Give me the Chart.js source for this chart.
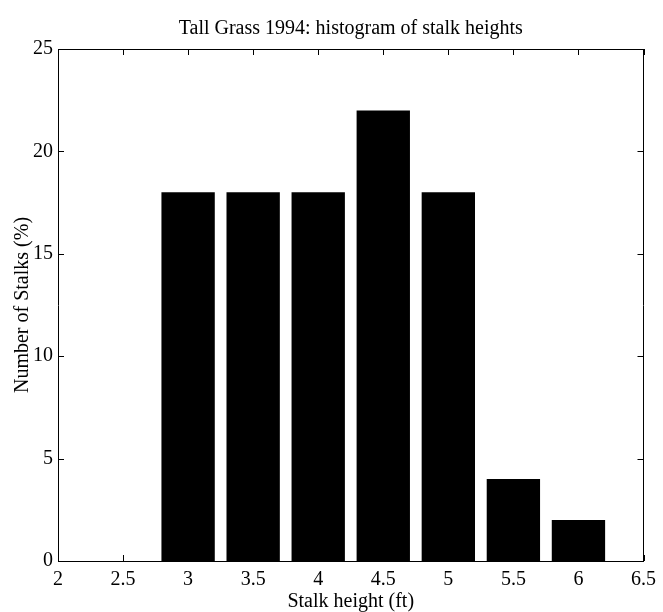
<!DOCTYPE html>
<html>
<head>
<meta charset="utf-8">
<script src="https://cdn.jsdelivr.net/npm/chart.js@4"></script>
<style>
  html, body { margin: 0; padding: 0; background: #fff; }
  canvas { display: block; }
</style>
</head>
<body>
<canvas id="chart" width="663" height="612"></canvas>
<script>
// histogram bins (ft) and share of stalks (%)
const binCenters = [3, 3.5, 4, 4.5, 5, 5.5, 6];
const stalkPercent = [18, 18, 18, 22, 18, 4, 2];
const xTicks = [2, 2.5, 3, 3.5, 4, 4.5, 5, 5.5, 6, 6.5];
const yTicks = [0, 5, 10, 15, 20, 25];

const serif = 'Liberation Serif';
const ink = '#000';

// matlab style ticks pointing into the plot box
const inwardTicks = {
  id: 'inwardTicks',
  afterDraw(chart) {
    const { ctx, chartArea: a, scales } = chart;
    const len = 6;
    ctx.save();
    ctx.strokeStyle = ink;
    ctx.lineWidth = 1;
    ctx.beginPath();
    xTicks.forEach(v => {
      const px = Math.round(scales.x.getPixelForValue(v)) + 0.5;
      ctx.moveTo(px, a.bottom); ctx.lineTo(px, a.bottom - len);
      ctx.moveTo(px, a.top); ctx.lineTo(px, a.top + len);
    });
    yTicks.forEach(v => {
      const py = Math.round(scales.y.getPixelForValue(v)) + 0.5;
      ctx.moveTo(a.left, py); ctx.lineTo(a.left + len, py);
      ctx.moveTo(a.right, py); ctx.lineTo(a.right - len, py);
    });
    ctx.stroke();
    ctx.restore();
  }
};

const hiddenAxis = {
  ticks: { display: false },
  grid: { display: false, drawTicks: false },
  border: { display: true, color: ink, width: 1 }
};

new Chart(document.getElementById('chart'), {
  type: 'bar',
  data: {
    datasets: [{
      data: binCenters.map((x, i) => ({ x, y: stalkPercent[i] })),
      backgroundColor: ink,
      borderWidth: 0,
      barPercentage: 0.82,
      categoryPercentage: 1
    }]
  },
  options: {
    responsive: false,
    devicePixelRatio: 1,
    animation: false,
    layout: { padding: { left: 0, right: 17, top: 0, bottom: 0 } },
    plugins: {
      legend: { display: false },
      tooltip: { enabled: false },
      title: { display: false }
    },
    scales: {
      x: {
        type: 'linear',
        position: 'bottom',
        offset: false,
        min: 2,
        max: 6.5,
        afterBuildTicks: s => { s.ticks = xTicks.map(value => ({ value })); },
        afterFit: s => { s.height = 51; },
        ticks: {
          color: ink,
          padding: 7,
          maxRotation: 0,
          autoSkip: false,
          callback: v => String(v),
          font: { family: serif, size: 20 }
        },
        grid: { display: false, drawTicks: false },
        border: { display: true, color: ink, width: 1 },
        title: {
          display: true,
          text: 'Stalk height (ft)',
          color: ink,
          font: { family: serif, size: 20, lineHeight: 1 },
          padding: { top: 0, bottom: 0 }
        }
      },
      x2: {
        type: 'linear',
        position: 'top',
        offset: false,
        min: 2,
        max: 6.5,
        afterFit: s => { s.height = 49; },
        ...hiddenAxis,
        title: {
          display: true,
          text: 'Tall Grass 1994: histogram of stalk heights',
          color: ink,
          font: { family: serif, size: 20 },
          padding: { top: 17, bottom: 0 }
        }
      },
      y: {
        type: 'linear',
        position: 'left',
        min: 0,
        max: 25,
        afterBuildTicks: s => { s.ticks = yTicks.map(value => ({ value })); },
        afterFit: s => { s.width = 58; },
        ticks: {
          color: ink,
          padding: 5,
          callback: v => String(v),
          font: { family: serif, size: 20 }
        },
        grid: { display: false, drawTicks: false },
        border: { display: true, color: ink, width: 1 },
        title: {
          display: true,
          text: 'Number of Stalks (%)',
          color: ink,
          font: { family: serif, size: 20 },
          padding: { top: 11, bottom: 0 }
        }
      },
      y2: {
        type: 'linear',
        position: 'right',
        min: 0,
        max: 25,
        afterFit: s => { s.width = 0; },
        ...hiddenAxis
      }
    }
  },
  plugins: [inwardTicks]
});
</script>
</body>
</html>
